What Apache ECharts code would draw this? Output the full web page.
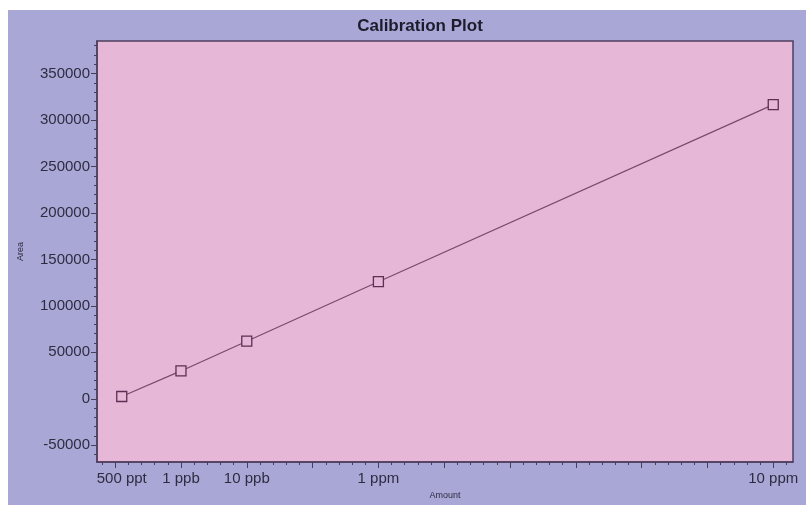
<!DOCTYPE html>
<html>
<head>
<meta charset="utf-8">
<script src="https://cdn.jsdelivr.net/npm/echarts@6/dist/echarts.min.js"></script>
<style>
html,body{margin:0;padding:0;background:#ffffff;}
#chart{position:absolute;left:8px;top:10px;width:798px;height:495px;}
</style>
</head>
<body>
<div id="chart"></div>
<script>
// Data
const amounts = [0.5, 5, 10, 20, 50];
const amountLabels = ['500 ppt', '1 ppb', '10 ppb', '1 ppm', '10 ppm'];
const areas = [2500, 30000, 62000, 126000, 316500];
const yMajorTicks = [-50000, 0, 50000, 100000, 150000, 200000, 250000, 300000, 350000];
const yMinorTicks = [-60000,-50000,-40000,-30000,-20000,-10000,0,10000,20000,30000,40000,50000,60000,70000,80000,90000,100000,110000,120000,130000,140000,150000,160000,170000,180000,190000,200000,210000,220000,230000,240000,250000,260000,270000,280000,290000,300000,310000,320000,330000,340000,350000,360000,370000,380000];
const xMajorTicks = [0, 5, 10, 15, 20, 25, 30, 35, 40, 45, 50];
const xMinorTicks = [-1,0,1,2,3,4,5,6,7,8,9,10,11,12,13,14,15,16,17,18,19,20,21,22,23,24,25,26,27,28,29,30,31,32,33,34,35,36,37,38,39,40,41,42,43,44,45,46,47,48,49,50,51];

const font = 'Liberation Sans, Arial, sans-serif';
const tickColor = '#4a3d5c';
const labelColor = '#2e2c40';
const X_MIN = -1.38, X_MAX = 51.5, Y_MIN = -68000, Y_MAX = 385000;

const chart = echarts.init(document.getElementById('chart'));
chart.setOption({
  backgroundColor: '#a9a7d6',
  animation: false,
  title: {
    text: 'Calibration Plot',
    left: 407, top: 3, textAlign: 'center',
    textStyle: {fontFamily: font, fontSize: 17, fontWeight: 'bold', color: '#1e1c2c'}
  },
  grid: {
    left: 88, top: 31, right: 13, bottom: 42,
    show: true, backgroundColor: '#e6b7d7', borderColor: '#4f3f5f', borderWidth: 1.5
  },
  xAxis: [{
    type: 'value', min: X_MIN, max: X_MAX, position: 'bottom',
    name: 'Amount', nameLocation: 'middle', nameGap: 29,
    nameTextStyle: {fontFamily: font, fontSize: 9, color: labelColor},
    splitLine: {show: false},
    axisLine: {show: true, onZero: false, lineStyle: {color: '#4f3f5f', width: 1.5}},
    axisTick: {show: true, customValues: xMajorTicks, length: 6, lineStyle: {color: tickColor}},
    axisLabel: {show: true, customValues: amounts, margin: 9,
      fontFamily: font, fontSize: 15, color: labelColor,
      formatter: v => { const i = amounts.indexOf(v); return i >= 0 ? amountLabels[i] : ''; }}
  }, {
    type: 'value', min: X_MIN, max: X_MAX, position: 'bottom', offset: 0,
    splitLine: {show: false},
    axisLine: {show: false, onZero: false},
    axisTick: {show: true, customValues: xMinorTicks, length: 3, lineStyle: {color: tickColor}},
    axisLabel: {show: false}
  }],
  yAxis: [{
    type: 'value', min: Y_MIN, max: Y_MAX, position: 'left',
    name: 'Area', nameLocation: 'middle', nameGap: 72, nameRotate: 90,
    nameTextStyle: {fontFamily: font, fontSize: 9, color: labelColor},
    splitLine: {show: false},
    axisLine: {show: true, onZero: false, lineStyle: {color: '#4f3f5f', width: 1.5}},
    axisTick: {show: true, customValues: yMajorTicks, length: 6, lineStyle: {color: tickColor}},
    axisLabel: {show: true, customValues: yMajorTicks, margin: 7,
      fontFamily: font, fontSize: 15, color: labelColor,
      formatter: v => String(v)}
  }, {
    type: 'value', min: Y_MIN, max: Y_MAX, position: 'left', offset: 0,
    splitLine: {show: false},
    axisLine: {show: false, onZero: false},
    axisTick: {show: true, customValues: yMinorTicks, length: 3, lineStyle: {color: tickColor}},
    axisLabel: {show: false}
  }],
  series: [{
    type: 'line',
    xAxisIndex: 0, yAxisIndex: 0,
    data: amounts.map((a, i) => [a, areas[i]]),
    lineStyle: {color: '#7a4a6e', width: 1.2},
    symbol: 'rect', symbolSize: 10,
    itemStyle: {color: '#e6b7d7', borderColor: '#5e2f52', borderWidth: 1.3},
    emphasis: {disabled: true},
    z: 3
  }]
});
</script>
</body>
</html>
